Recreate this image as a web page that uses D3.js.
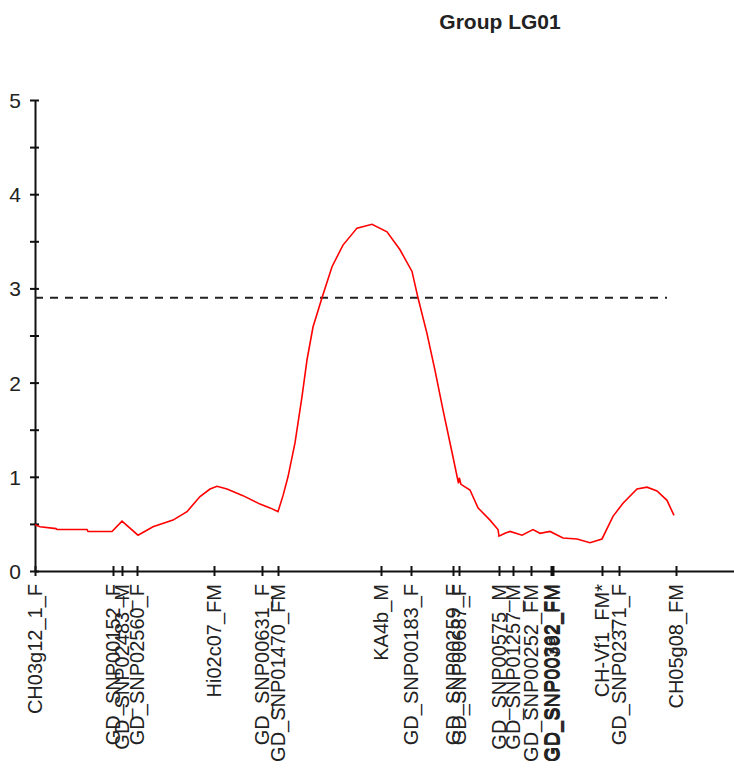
<!DOCTYPE html>
<html>
<head>
<meta charset="utf-8">
<script src="https://cdn.jsdelivr.net/npm/d3@7"></script>
<style>
  body { margin: 0; background: #fff; }
  text { font-family: "Liberation Sans", Arial, sans-serif; }
</style>
</head>
<body>
<script>
var svgWidth = 734;
var svgHeight = 769;

// Marker names and map positions (cM)
var markerNames = [
  "CH03g12_1_F", "GD_SNP00152_F", "GD_SNP02483_M", "GD_SNP02560_F",
  "Hi02c07_FM", "GD_SNP00631_F", "GD_SNP01470_FM", "KA4b_M",
  "GD_SNP00183_F", "GD_SNP00259_F", "GD_SNP00687_F", "GD_SNP00575_M",
  "GD_SNP01257_M", "GD_SNP00252_FM", "GD_SNP00362_FM", "GD_SNP00782_FM",
  "GD_SNP00392_FM", "CH-Vf1_FM*", "GD_SNP02371_F", "CH05g08_FM"
];
var markerPos = [
  0, 7.8, 8.7, 10.2,
  17.9, 22.7, 24.3, 34.6,
  37.6, 41.8, 42.4, 46.4,
  47.8, 49.6, 51.6, 51.7,
  51.8, 56.7, 58.4, 64.1
];

// LOD profile along the group
var lodPos = [
  0, 0.5, 2.1, 2.2, 5.2, 5.3, 7.7, 8.7, 10.3, 11.8, 13.8, 15.2,
  16.5, 17.5, 18.2, 19.2, 20.8, 22.5, 23.5, 24.3, 24.8, 25.3, 26.0, 26.7,
  27.2, 27.8, 28.7, 29.7, 30.8, 32.2, 33.7, 35.2, 36.5, 37.7, 38.3, 39.2,
  40.0, 40.8, 41.8, 42.35, 42.43, 42.6, 43.5, 44.3, 45.5, 46.3, 46.4, 47.0,
  47.5, 48.7, 49.8, 50.5, 51.5, 52.8, 54.2, 55.5, 56.7, 57.8, 58.8, 60.2,
  61.2, 62.2, 63.2, 63.9
];
var lodValues = [
  0.49, 0.47, 0.45, 0.44, 0.44, 0.42, 0.42, 0.53, 0.38, 0.47, 0.54, 0.63,
  0.79, 0.87, 0.90, 0.87, 0.80, 0.71, 0.67, 0.63, 0.80, 1.00, 1.36, 1.85,
  2.24, 2.59, 2.90, 3.23, 3.46, 3.64, 3.68, 3.60, 3.41, 3.18, 2.90, 2.52,
  2.13, 1.71, 1.21, 0.93, 0.99, 0.92, 0.86, 0.67, 0.54, 0.44, 0.37, 0.40,
  0.42, 0.38, 0.44, 0.40, 0.42, 0.35, 0.34, 0.30, 0.34, 0.58, 0.72, 0.87,
  0.89, 0.85, 0.75, 0.59
];

var threshold = 2.9;
var thresholdEnd = 63.2;
var yTicks = [0, 1, 2, 3, 4, 5];
var yMinorTicks = [0.5, 1.5, 2.5, 3.5, 4.5];
var title = "Group LG01";

var svg = d3.select("body")
  .append("svg")
  .attr("width", svgWidth)
  .attr("height", svgHeight);

// Step 1: scales
var xScale = d3.scaleLinear().domain([0, 69.9]).range([35, 734]);
var yScale = d3.scaleLinear().domain([0, 5]).range([571, 100]);

// Step 2: title
svg.append("text")
  .attr("x", 500)
  .attr("y", 29)
  .attr("text-anchor", "middle")
  .style("font-size", "21px")
  .style("font-weight", "bold")
  .attr("fill", "#222")
  .text(title);

// Step 3: y axis (major ticks with labels, minor ticks without)
var leftAxis = d3.axisLeft(yScale)
  .tickValues(yTicks)
  .tickSizeInner(5)
  .tickSizeOuter(0)
  .tickPadding(9)
  .tickFormat(d3.format("d"));

var yAxisG = svg.append("g")
  .attr("transform", `translate(${xScale(0)},0)`)
  .call(leftAxis);
yAxisG.selectAll(".tick line").attr("x1", 4);

svg.append("g")
  .attr("transform", `translate(${xScale(0)},0)`)
  .call(d3.axisLeft(yScale).tickValues(yMinorTicks).tickSizeInner(5).tickSizeOuter(0).tickFormat(""))
  .call(g => g.select(".domain").remove())
  .selectAll(".tick line").attr("x1", 4);

yAxisG.selectAll("text")
  .style("font-size", "21px")
  .attr("fill", "#222")
  .attr("dy", "0.36em");

// Step 4: x axis with marker ticks
var bottomAxis = d3.axisBottom(xScale)
  .tickValues(markerPos)
  .tickSizeInner(5)
  .tickSizeOuter(0)
  .tickFormat("");

var xAxisG = svg.append("g")
  .attr("transform", `translate(0,${yScale(0)})`)
  .call(bottomAxis);
xAxisG.selectAll(".tick line").attr("y1", -5);

svg.selectAll(".domain, .tick line")
  .attr("stroke", "#111")
  .attr("stroke-width", 2);

// Step 5: marker labels
svg.append("g")
  .selectAll("text")
  .data(markerNames)
  .enter()
  .append("text")
  .attr("transform", (d, i) => `translate(${xScale(markerPos[i])},584) rotate(-90)`)
  .attr("text-anchor", "end")
  .attr("dy", "0.33em")
  .style("font-size", "20px")
  .attr("fill", "#222")
  .text(d => d);

// Step 6: threshold line
svg.append("line")
  .attr("x1", xScale(0))
  .attr("x2", xScale(thresholdEnd))
  .attr("y1", yScale(threshold))
  .attr("y2", yScale(threshold))
  .attr("stroke", "#222")
  .attr("stroke-width", 2)
  .attr("stroke-dasharray", "8,7");

// Step 7: LOD curve
var line = d3.line()
  .x((d, i) => xScale(lodPos[i]))
  .y(d => yScale(d));

svg.append("path")
  .datum(lodValues)
  .attr("d", line)
  .attr("fill", "none")
  .attr("stroke", "#ff0000")
  .attr("stroke-width", 1.6);
</script>
</body>
</html>
